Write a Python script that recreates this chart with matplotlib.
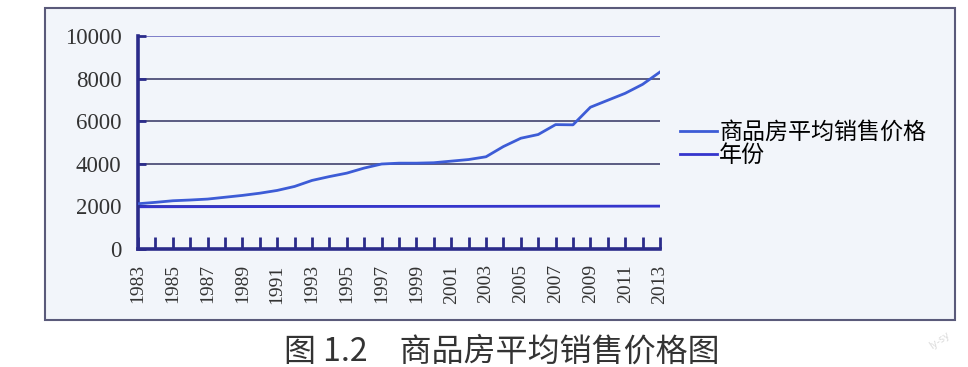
import matplotlib
matplotlib.use("Agg")
import matplotlib.pyplot as plt
from matplotlib.patches import Rectangle

plt.rcParams['font.family'] = ['Noto Sans CJK SC', 'DejaVu Sans']

years = list(range(1983, 2014))
year_labels = [str(y) if y % 2 == 1 else "" for y in years]
price = [2125, 2190, 2265, 2300, 2344, 2430, 2516, 2620, 2750, 2937, 3219, 3400,
         3562, 3800, 3990, 4030, 4030, 4050, 4125, 4200, 4330, 4810, 5200, 5375,
         5840, 5830, 6656, 6984, 7310, 7730, 8310]
year_values = years
series_names = ["商品房平均销售价格", "年份"]
yticks = [0, 2000, 4000, 6000, 8000, 10000]
caption = "图 1.2　商品房平均销售价格图"
watermark = "ly-sy"

W, H = 968, 367
fig = plt.figure(figsize=(W / 100, H / 100), dpi=100)
fig.patch.set_facecolor("white")

# background axes holding the chart box
bg = fig.add_axes([0, 0, 1, 1], zorder=-1)
bg.set_xlim(0, W)
bg.set_ylim(H, 0)
bg.axis("off")
bg.add_patch(Rectangle((45, 8), 955 - 45, 320 - 8, facecolor="#f2f5fa",
                       edgecolor="#5a5a7a", linewidth=1.5))

ax = fig.add_axes([138 / W, 1 - 249 / H, (660 - 138) / W, (249 - 36) / H],
                  zorder=1)
ax.patch.set_visible(False)

x = list(range(len(years)))
for yv in yticks[1:]:
    ax.axhline(yv, color="#4f4f78" if yv != 10000 else "#7474c4",
               linewidth=1.3, zorder=1)
l1, = ax.plot(x, price, color="#3d5cd6", linewidth=2.0, zorder=3,
              label=series_names[0])
l2, = ax.plot(x, year_values, color="#3535cc", linewidth=2.0, zorder=2,
              label=series_names[1])

ax.set_xlim(0, len(years) - 1)
ax.set_ylim(0, 10000)
ax.set_yticks(yticks)
ax.set_yticklabels([str(v) for v in yticks], family=["Liberation Serif"],
                   fontsize=16.5, color="#333333")
ax.set_xticks(x)
ax.set_xticklabels(year_labels, rotation=90, family=["Liberation Serif"],
                   fontsize=14, color="#333333")
ax.tick_params(axis="x", direction="in", length=9, width=2.0,
               color="#2b2b8a", pad=11)
ax.tick_params(axis="y", direction="in", length=6, width=2,
               color="#2b2b8a", pad=12)
for s in ["top", "right"]:
    ax.spines[s].set_visible(False)
for s in ["left", "bottom"]:
    ax.spines[s].set_color("#2b2b8a")
    ax.spines[s].set_linewidth(2.6)

ax.legend(handles=[l1, l2], loc="center left",
          bbox_to_anchor=(680 / W, 1 - 144 / H), bbox_transform=fig.transFigure,
          frameon=False, fontsize=16.6, handlelength=1.6, handletextpad=0.1,
          labelspacing=0.0, borderpad=0, borderaxespad=0)

fig.text(502 / W, 1 - 352 / H, caption, ha="center", va="center",
         fontsize=23, color="#333333")
fig.text(940 / W, 1 - 340 / H, watermark, ha="center", va="center",
         fontsize=7, color="#dcdcdc", rotation=35, family=["DejaVu Sans"])

fig.savefig("out.png", dpi=100)
